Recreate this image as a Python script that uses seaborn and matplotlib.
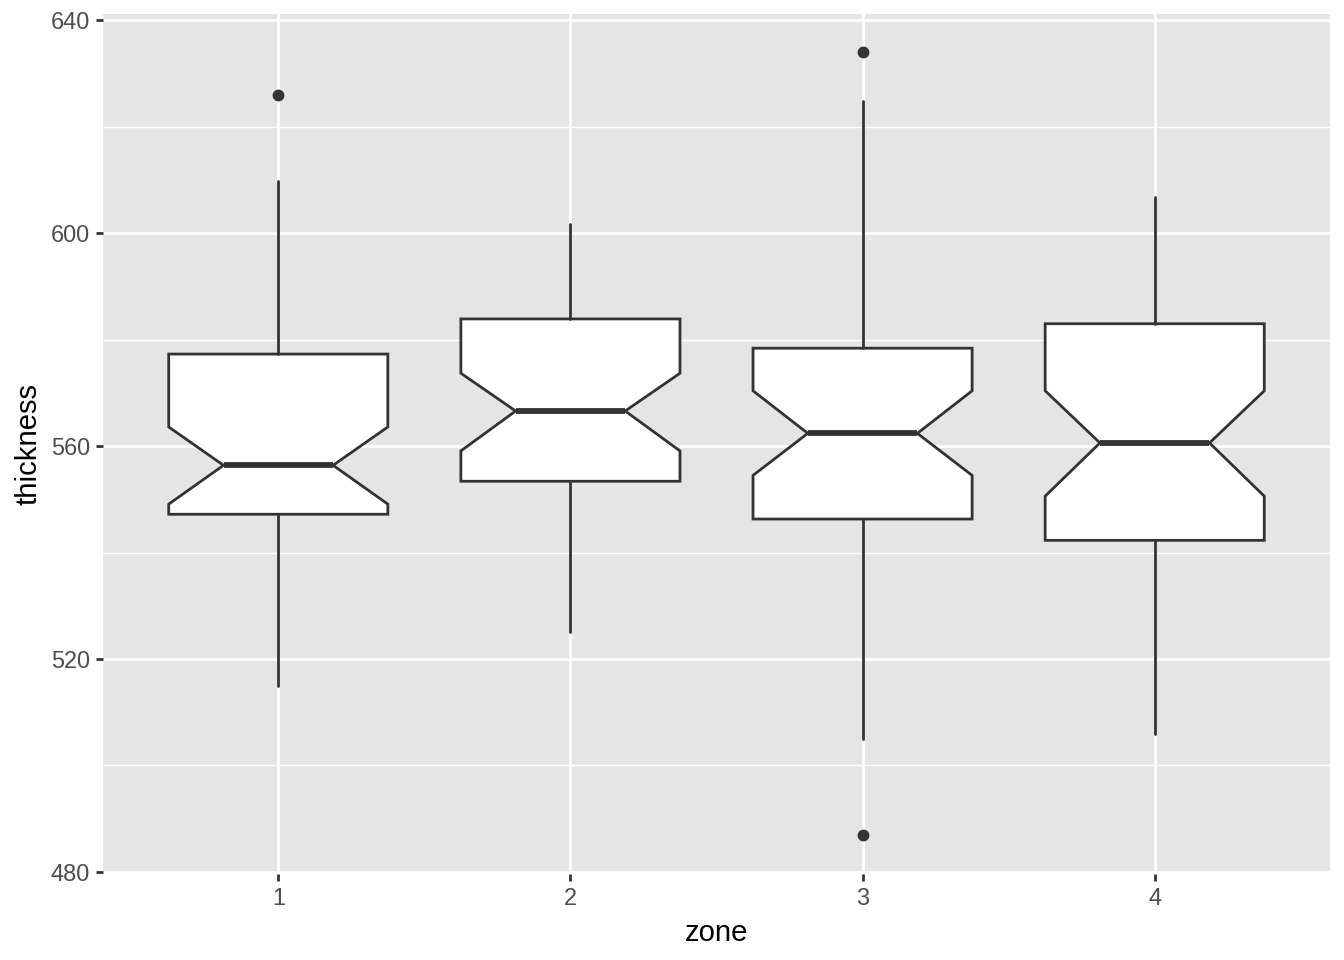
import matplotlib
matplotlib.use("Agg")
import matplotlib.pyplot as plt
import seaborn as sns
from matplotlib.ticker import MultipleLocator

# Data (per zone)
zones = ["1", "2", "3", "4"]
q1 = [547.2, 553.4, 546.3, 542.3]
median = [556.4, 566.6, 562.4, 560.6]
q3 = [577.3, 583.9, 578.4, 583.0]
notch_lo = [549.1, 559.1, 554.5, 550.6]
notch_hi = [563.6, 573.7, 570.4, 570.4]
whisker_lo = [515.0, 525.0, 505.0, 506.0]
whisker_hi = [609.9, 601.8, 624.9, 606.9]
outliers = [[625.9], [], [634.0, 487.0], []]
y_ticks = [480, 520, 560, 600, 640]

sns.set_theme(style="darkgrid")
plt.rcParams["font.family"] = ["Liberation Sans", "DejaVu Sans"]

fig = plt.figure(figsize=(13.44, 9.6), dpi=100)
ax = fig.add_axes([103 / 1344, 1 - 874 / 960, (1330 - 103) / 1344, (874 - 14) / 960])

stats = []
for i in range(len(zones)):
    stats.append(dict(
        med=median[i], q1=q1[i], q3=q3[i],
        whislo=whisker_lo[i], whishi=whisker_hi[i],
        cilo=notch_lo[i], cihi=notch_hi[i],
        fliers=outliers[i], label=zones[i],
    ))

line_c = "#333333"
ax.bxp(
    stats, positions=range(len(zones)), widths=0.75, shownotches=True,
    showcaps=False, patch_artist=True,
    boxprops=dict(facecolor="white", edgecolor=line_c, linewidth=2.0),
    whiskerprops=dict(color=line_c, linewidth=2.0),
    medianprops=dict(color=line_c, linewidth=4.2, solid_capstyle="butt"),
    flierprops=dict(marker="o", markerfacecolor=line_c, markeredgecolor=line_c,
                    markersize=7.5, linestyle="none"),
    zorder=3,
)

ax.set_facecolor("#E5E5E5")
ax.set_xlim(-0.6, len(zones) - 1 + 0.6)
ax.set_ylim(479.6, 641.2)
ax.set_yticks(y_ticks)
ax.yaxis.set_minor_locator(MultipleLocator(20))
ax.set_xticks(range(len(zones)))
ax.set_xticklabels(zones)

ax.grid(which="major", color="white", linewidth=2.0)
ax.grid(which="minor", axis="y", color="white", linewidth=1.0)
ax.set_axisbelow(True)
for s in ax.spines.values():
    s.set_visible(False)

ax.tick_params(axis="both", which="major", length=5.3, width=2.0, color=line_c,
               labelsize=16.9, labelcolor="#4D4D4D", pad=4.2,
               left=True, bottom=True)
ax.tick_params(axis="both", which="minor", length=0, left=False, bottom=False)

ax.set_xlabel("zone", fontsize=21.1, color="black", labelpad=6)
ax.set_ylabel("thickness", fontsize=21.1, color="black", labelpad=6)

fig.savefig("out.png", dpi=100, facecolor="white")
